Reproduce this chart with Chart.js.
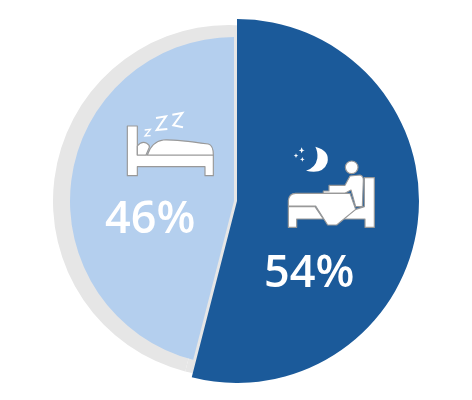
<!DOCTYPE html>
<html>
<head>
<meta charset="utf-8">
<script src="https://cdn.jsdelivr.net/npm/chart.js@4"></script>
<style>
  html, body { margin: 0; background: #fff; overflow: hidden; }
  #stage { position: relative; width: 472px; height: 400px; }
  canvas, svg, .pct { position: absolute; }
  .pct { color: #fff; font: 600 45px "Open Sans", sans-serif; line-height: 1; white-space: nowrap; }
  .icon path, .icon circle { fill: #fff; stroke: #999; stroke-width: 3.5; stroke-linejoin: round; }
  .icon .plain { stroke: none; }
  .icon .zz { fill: none; stroke: #fff; stroke-width: 6; stroke-linejoin: miter; }
</style>
</head>
<body>
<div id="stage">
  <canvas id="shadowPie"></canvas>
  <canvas id="lightPie"></canvas>
  <canvas id="darkPie"></canvas>

  <!-- asleep icon -->
  <svg class="icon" style="left:110px;top:100px" width="120" height="140" viewBox="0 0 360 420">
    <path class="zz" style="stroke-width:4" d="M104 90 L121 88 L105 108 L122 107"/>
    <path class="zz" d="M138 54 L168 49 L140 90 L172 87"/>
    <path class="zz" d="M187 44 L217 39 L190 76 L219 82"/>
    <path d="M52 78 L82 78 L82 165 L310 165 L310 227 L285 227 L285 200 L82 200 L82 227 L52 227 Z"/>
    <path d="M82 165 L82 138 Q95 122 110 130 Q120 136 118 142 L108 165 Z"/>
    <path d="M112 165 Q125 125 160 120 Q190 118 295 132 Q310 136 310 165 Z"/>
  </svg>

  <!-- awake icon -->
  <svg class="icon" style="left:255px;top:140px" width="130" height="160" viewBox="0 0 390 480">
    <path class="plain" d="M181 20 Q226 32 217 68 Q204 104 153 92 Q182 84 187 55 Q189 35 181 20 Z"/>
    <path class="plain" d="M140 22 L143 29 L149 31 L143 33 L140 40 L137 33 L131 31 L137 29 Z"/>
    <path class="plain" d="M123 40 L125 45 L130 47 L125 49 L123 54 L121 49 L116 47 L121 45 Z"/>
    <path class="plain" d="M142 51 L144 56 L149 58 L144 60 L142 65 L140 60 L135 58 L140 56 Z"/>
    <circle cx="290" cy="82" r="19"/>
    <path d="M328 113 L358 113 L358 262 L330 262 L330 237 L262 237 L302 208 L328 200 Z"/>
    <path d="M100 200 L180 200 L205 237 L125 237 L125 262 L100 262 Z"/>
    <path d="M270 136 L285 108 L315 105 Q326 108 325 122 L322 200 L302 200 L288 150 L270 160 L205 160 L205 153 L222 153 L222 136 Z"/>
    <path d="M100 198 L100 182 Q102 160 122 160 L285 160 L302 208 L245 255 L218 255 L182 198 Z"/>
  </svg>

  <div class="pct" id="labelAsleep" style="left:105px;top:193px"></div>
  <div class="pct" id="labelAwake" style="left:264px;top:247px"></div>
</div>

<script>
const categories = ["Awake", "Asleep"];
const shares = [54, 46];
const shareLabels = ["54%", "46%"];

const darkBlue = "#1b5a9a";
const lightBlue = "#b4cfee";
const grey = "#e6e6e6";

// each layer is the same pie, only the painted slices differ, moved by css
function drawPie(id, cx, cy, radius, colors) {
  const canvas = document.getElementById(id);
  canvas.style.left = cx - radius + "px";
  canvas.style.top = cy - radius + "px";
  canvas.width = radius * 2;
  canvas.height = radius * 2;

  return new Chart(canvas, {
    type: "pie",
    data: {
      labels: categories,
      datasets: [
        {
          data: shares,
          backgroundColor: colors,
          borderWidth: 0,
        },
      ],
    },
    options: {
      responsive: false,
      animation: false,
      layout: { padding: 0 },
      plugins: {
        legend: { display: false },
        tooltip: { enabled: false },
      },
    },
  });
}

drawPie("shadowPie", 229, 201, 176, [grey, grey]);
drawPie("lightPie", 234, 201, 164, ["transparent", lightBlue]);
drawPie("darkPie", 237, 201, 182, [darkBlue, "transparent"]);

document.getElementById("labelAwake").textContent = shareLabels[0];
document.getElementById("labelAsleep").textContent = shareLabels[1];
</script>
</body>
</html>
